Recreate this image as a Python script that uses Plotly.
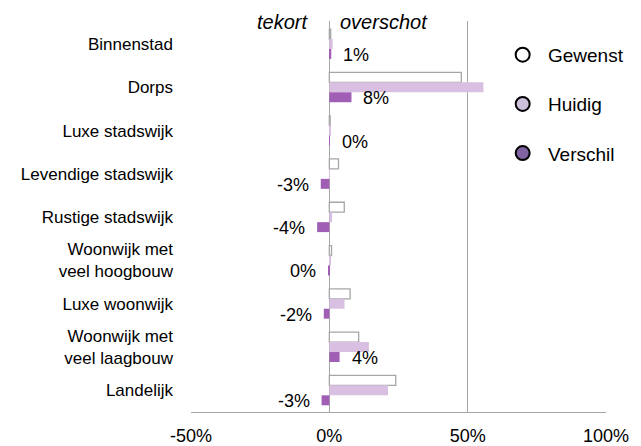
import plotly.graph_objects as go

# Woonmilieus (top to bottom)
categories = [
    "Binnenstad",
    "Dorps",
    "Luxe stadswijk",
    "Levendige stadswijk",
    "Rustige stadswijk",
    "Woonwijk met<br>veel hoogbouw",
    "Luxe woonwijk",
    "Woonwijk met<br>veel laagbouw",
    "Landelijk",
]

# Shares in percent
gewenst = [0.5, 47.7, 0.3, 3.3, 5.4, 0.8, 7.5, 10.6, 24.0]
huidig = [1.2, 55.7, 0.5, 0.2, 1.0, 0.4, 5.5, 14.3, 21.2]
verschil = [0.7, 8.0, 0.2, -3.1, -4.4, -0.4, -2.0, 3.7, -2.8]

x_tick_vals = [-50, 0, 50, 100]
x_tick_text = ["-50%", "0%", "50%", "100%"]

FONT = "Liberation Sans, Arial, sans-serif"
GRID = "#a6a6a6"

fig = go.Figure()

fig.add_trace(go.Bar(
    y=categories, x=gewenst, orientation="h", name="Gewenst",
    marker=dict(color="white", line=dict(color="#a6a6a6", width=1.3)),
    showlegend=False,
))
fig.add_trace(go.Bar(
    y=categories, x=huidig, orientation="h", name="Huidig",
    marker=dict(color="#d9bfe1", line=dict(width=0)),
    showlegend=False,
))
fig.add_trace(go.Bar(
    y=categories, x=verschil, orientation="h", name="Verschil",
    marker=dict(color="#a05eb5", line=dict(width=0)),
    showlegend=False,
))

# Legend entries drawn as circles
legend_fill = {"Gewenst": "white", "Huidig": "#ccc0da", "Verschil": "#8064a2"}
for i, (name, fill) in enumerate(legend_fill.items()):
    fig.add_trace(go.Scatter(
        x=[None], y=[None], mode="markers", name=" " + name,
        legendgroup=f"g{i}",
        marker=dict(symbol="circle", size=14, color=fill,
                    line=dict(color="black", width=2)),
    ))

# Value labels for the difference bars
for cat, v in zip(categories, verschil):
    pos = v >= 0
    fig.add_annotation(
        x=v, y=cat, xref="x", yref="y",
        text=f"{int(round(v))}%", showarrow=False,
        xanchor="left" if pos else "right",
        xshift=10 if pos else -10, yshift=-11,
        font=dict(family=FONT, size=18, color="black"),
    )

# Headers on either side of the zero line
fig.add_annotation(x=-7, y=1, xref="x", yref="paper", yanchor="middle",
                   xanchor="right", text="<i>tekort</i>", showarrow=False,
                   yshift=-1,
                   font=dict(family=FONT, size=20, color="black"))
fig.add_annotation(x=3, y=1, xref="x", yref="paper", yanchor="middle",
                   xanchor="left", text="<i>overschot</i>", showarrow=False,
                   yshift=-1,
                   font=dict(family=FONT, size=20, color="black"))

fig.update_layout(
    width=641, height=446,
    margin=dict(l=191, r=28, t=21, b=34),
    paper_bgcolor="white", plot_bgcolor="white",
    barmode="group", bargap=0.31, bargroupgap=0,
    font=dict(family=FONT, color="black"),
    legend=dict(
        x=0.751, y=0.962, xanchor="left", yanchor="top",
        bgcolor="rgba(0,0,0,0)", traceorder="grouped", tracegroupgap=21.5,
        font=dict(family=FONT, size=19, color="black"),
    ),
    xaxis=dict(
        range=[-50, 100], tickvals=x_tick_vals, ticktext=x_tick_text,
        showgrid=True, gridcolor=GRID, gridwidth=1,
        zeroline=True, zerolinecolor=GRID, zerolinewidth=1,
        showline=True, linecolor=GRID, linewidth=1,
        ticks="", ticklabelstandoff=7,
        tickfont=dict(family=FONT, size=18, color="black"),
        automargin=False,
    ),
    yaxis=dict(
        autorange="reversed", showgrid=False, zeroline=False,
        showline=False, ticks="", ticklabelstandoff=17,
        tickfont=dict(family=FONT, size=17, color="black"),
        automargin=False,
    ),
)

fig.write_html("out.html")
